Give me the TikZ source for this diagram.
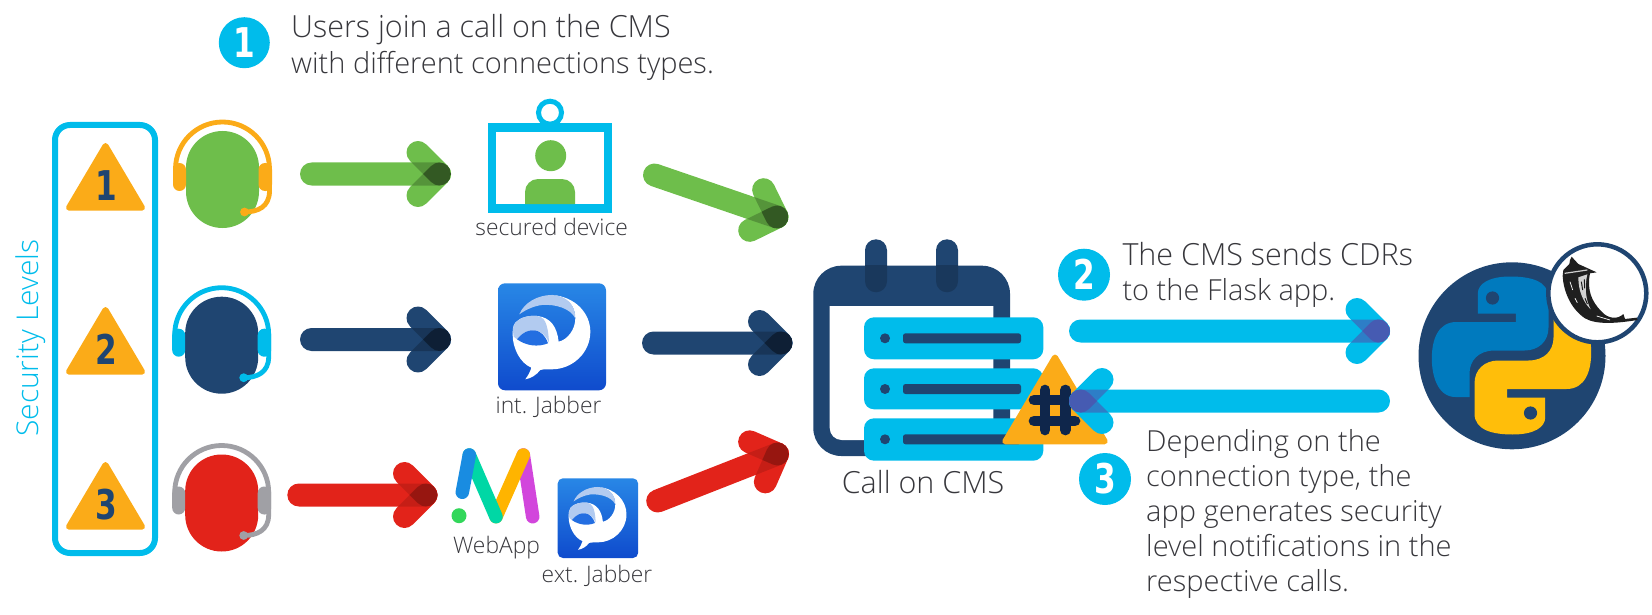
\documentclass[tikz,border=0pt]{standalone}
\usepackage{fontspec}
\setmainfont{Open Sans Light}
\newfontfamily\digitfont{DejaVu Sans}
\usetikzlibrary{calc}

\definecolor{ciscocyan}{RGB}{0,188,235}
\definecolor{ciscogreen}{RGB}{110,190,75}
\definecolor{cisconavy}{RGB}{31,69,113}
\definecolor{ciscored}{RGB}{226,35,26}
\definecolor{ciscoorange}{RGB}{251,171,24}
\definecolor{ciscogray}{RGB}{160,160,165}
\definecolor{hashnavy}{RGB}{15,38,75}
\definecolor{labelgray}{RGB}{55,55,60}
\definecolor{pyblue}{RGB}{0,122,190}
\definecolor{pyyellow}{RGB}{255,190,10}
\definecolor{overlapblue}{RGB}{75,85,175}

\tikzset{
  bigtext/.style={anchor=base west,inner sep=0,text=labelgray,font=\fontsize{29}{29}\selectfont},
  widetext/.style={anchor=base west,inner sep=0,text=labelgray,font=\fontsize{30.5}{30.5}\selectfont},
  smalltext/.style={anchor=base,inner sep=0,text=labelgray,font=\fontsize{22.8}{22.8}\selectfont},
  alertmark/.style={fill=ciscoorange,draw=ciscoorange,line width=6pt,line join=round},
  barbA/.style={rotate=135,rounded corners=11.5pt},
  barbB/.style={rotate=-135,rounded corners=11.5pt},
  hashbar/.style={hashnavy,line width=10.7pt,line cap=round},
}

\newcommand{\digit}[1]{\scalebox{.76}[1]{\digitfont\bfseries\fontsize{41}{41}\selectfont #1}}

% from, to, colour, overlap colour, overlap opacity
\newcommand{\flowarrow}[5]{
  \path let \p1=($(#2)-(#1)$) in \pgfextra{
    \pgfmathsetmacro\arrowangle{atan2(\y1,\x1)}
    \pgfmathsetmacro\arrowlen{veclen(\x1,\y1)}
    \xdef\arrowangle{\arrowangle}\xdef\arrowlen{\arrowlen}};
  \begin{scope}[shift={(#2)},rotate=\arrowangle]
    \def\shaftpath{(-\arrowlen-11.5,-11.5) rectangle (11.5,11.5)}
    \def\barbpath{(-11.5,-11.5) rectangle (41.9,11.5)}
    \fill[#3,rounded corners=11.5pt] \shaftpath;
    \fill[#3,barbA] \barbpath;
    \fill[#3,barbB] \barbpath;
    \begin{scope}
      \clip[barbA] \barbpath;
      \fill[#4,opacity=#5,rounded corners=11.5pt] \shaftpath;
      \fill[#4,opacity=#5,barbB] \barbpath;
    \end{scope}
    \begin{scope}
      \clip[barbB] \barbpath;
      \fill[#4,opacity=#5,rounded corners=11.5pt] \shaftpath;
    \end{scope}
  \end{scope}
}

% centre x, top of head, head colour, band colour
\newcommand{\headset}[4]{
  \begin{scope}[shift={(#1,#2)}]
    \fill[#3,rounded corners=36.4pt] (-36.5,0) rectangle (36.5,97);
    \draw[#4,line width=4.8pt,line cap=round] (-47,38) .. controls (-47,12) and (-26,-9) .. (0,-9)
      .. controls (26,-9) and (47,12) .. (47,38) -- (47,60) .. controls (47,76) and (35,81) .. (22,81);
    \fill[#4,rounded corners=6.5pt] (-49.5,32) rectangle (-36.5,60);
    \fill[#4,rounded corners=6.5pt] (36,32) rectangle (49.5,60);
    \fill[#4] (22,81) circle (4.4);
  \end{scope}
}

% left, top, size in parts of the big icon
\newcommand{\jabbericon}[3]{
  \begin{scope}[shift={(#1,#2)},scale=#3/3]
    \shade[top color=jabbertop,bottom color=jabberbottom,rounded corners=#3*7pt] (0,0) rectangle (324,321);
    \fill[white] (162,35) .. controls (232,40) and (277,90) .. (277,145)
      .. controls (277,210) and (222,258) .. (162,258) .. controls (150,258) and (140,257) .. (127,260)
      .. controls (115,275) and (100,285) .. (82,288) .. controls (90,277) and (97,265) .. (100,253)
      .. controls (67,240) and (44,195) .. (44,155) .. controls (44,140) and (44,130) .. (52,118)
      .. controls (67,102) and (92,96) .. (117,98) .. controls (157,102) and (177,130) .. (182,175)
      .. controls (207,170) and (232,140) .. (232,105) .. controls (232,65) and (207,40) .. (162,35) -- cycle;
    \fill[jabberband] (64,93) .. controls (77,60) and (117,35) .. (162,35)
      .. controls (207,38) and (232,65) .. (232,105) .. controls (217,75) and (172,62) .. (132,65)
      .. controls (107,68) and (82,80) .. (64,93) -- cycle;
    \fill[jabberband] (47,160) .. controls (44,140) and (44,130) .. (52,118)
      .. controls (67,102) and (92,96) .. (117,98) .. controls (137,100) and (150,115) .. (153,178)
      .. controls (135,135) and (92,125) .. (57,168) -- cycle;
    \fill[jabberhole] (57,168) .. controls (92,125) and (135,135) .. (150,180)
      .. controls (120,192) and (85,188) .. (57,168) -- cycle;
  \end{scope}
}
\definecolor{jabbertop}{RGB}{40,135,230}
\definecolor{jabberbottom}{RGB}{15,75,205}
\definecolor{jabberband}{RGB}{178,203,240}
\definecolor{jabberhole}{RGB}{35,110,225}

\begin{document}
\begin{tikzpicture}[x=1pt,y=-1pt]
    \useasboundingbox (0,0) rectangle (1652,615);

    \coordinate (greenA) at (311.5,174);
    \coordinate (greenB) at (439.5,174);
    \coordinate (navyA) at (311.5,339.5);
    \coordinate (navyB) at (439.5,339.5);
    \coordinate (redA) at (298.8,495);
    \coordinate (redB) at (426,495);
    \coordinate (greenC) at (654.5,175);
    \coordinate (greenD) at (777,217);
    \coordinate (navyC) at (653.5,343);
    \coordinate (navyD) at (781,343);
    \coordinate (redC) at (657.7,501);
    \coordinate (redD) at (777.5,454);
    \coordinate (cdrA) at (1080.5,331);
    \coordinate (cdrB) at (1378.5,331);
    \coordinate (notifyA) at (1378.5,401);
    \coordinate (notifyB) at (1080.5,401);

    % security levels
    \draw[ciscocyan,line width=6pt,rounded corners=15pt] (55,125) rectangle (155,553);
    \node[rotate=90,anchor=base west,inner sep=0,text=ciscocyan,font=\fontsize{30}{30}\selectfont] (levels) at (38,437) {Security Levels};
    \foreach \ty/\n in {146/1,310/2,465/3} {
        \fill[alertmark] (105.5,\ty) -- (142,\ty+61.7) -- (69,\ty+61.7) -- cycle;
        \node[inner sep=0,text=cisconavy] (level\n) at (106,\ty+39.5) {\digit{\n}};
    }

    \headset{222.5}{131}{ciscogreen}{ciscoorange}
    \headset{221.7}{296.7}{cisconavy}{ciscocyan}
    \headset{221.7}{454.5}{ciscored}{ciscogray}

    \flowarrow{greenA}{greenB}{ciscogreen}{black}{.22}
    \flowarrow{navyA}{navyB}{cisconavy}{black}{.22}
    \flowarrow{redA}{redB}{ciscored}{black}{.12}
    \flowarrow{greenC}{greenD}{ciscogreen}{black}{.22}
    \flowarrow{navyC}{navyD}{cisconavy}{black}{.22}
    \flowarrow{redC}{redD}{ciscored}{black}{.12}

    % secured device
    \draw[ciscocyan,line width=5pt] (550,112.7) circle (11.5);
    \draw[ciscocyan,line width=8.5pt,fill=white] (492.2,127.3) rectangle (607.8,208.3);
    \fill[ciscogreen] (550.7,155.7) circle (15.5);
    \fill[ciscogreen] (525,204) [rounded corners=13pt] -- (525,179) -- (575,179) [sharp corners] -- (575,204) -- cycle;
    \node[smalltext] (secured) at (551.7,235.7) {secured device};

    \jabbericon{498}{283.3}{1}
    \node[smalltext] (intjabber) at (548.5,413.3) {int. Jabber};

    % web app
    \draw[line width=13.5pt,line cap=round,draw={rgb,255:red,210;green,70;blue,220}] (523.3,455) -- (532.7,516.7);
    \draw[line width=13.5pt,line cap=round,draw={rgb,255:red,255;green,180;blue,0}] (523.3,455) -- (496,516.7);
    \draw[line width=13.5pt,line cap=round,draw={rgb,255:red,0;green,215;blue,165}] (469.3,455) -- (496,516.7);
    \draw[line width=13.5pt,line cap=round,draw={rgb,255:red,25;green,140;blue,225}] (469.3,455) -- (462.3,492.3);
    \fill[fill={rgb,255:red,50;green,215;blue,90}] (459,515.7) circle (7.5);
    \node[smalltext] (webapp) at (496.5,553.3) {WebApp};

    \jabbericon{557.7}{478.3}{.745}
    \node[smalltext] (extjabber) at (597,582.5) {ext. Jabber};

    % call on the CMS
    \fill[cisconavy,rounded corners=28pt] (813.3,265.7) rectangle (1010,456);
    \fill[white] (829.7,306) -- (993.3,306) -- (993.3,440) [rounded corners=12pt] -- (829.7,440) [sharp corners] -- cycle;
    \foreach \rx in {876,947} {
        \fill[cisconavy,rounded corners=11pt] (\rx-11,239.3) rectangle (\rx+11,292.3);
        \begin{scope}
            \clip (813,265.7) rectangle (1010,300);
            \fill[black,opacity=.18,rounded corners=11pt] (\rx-11,239.3) rectangle (\rx+11,292.3);
        \end{scope}
    }
    \foreach \ta/\tb/\lw in {317.3/359.3/338.3,368.3/409.3/389,418.3/460.7/439.3} {
        \fill[ciscocyan,rounded corners=10pt] (864,\ta) rectangle (1043.3,\tb);
        \fill[cisconavy] (885,\lw) circle (5);
        \fill[cisconavy,rounded corners=2.5pt] (903,\lw-5) rectangle (1021,\lw+5);
    }
    \fill[alertmark] (1055,357.5) -- (1104.7,441.3) -- (1005.3,441.3) -- cycle;
    \draw[hashbar] (1045,390) -- (1045,430);
    \draw[hashbar] (1065.3,390) -- (1065.3,430);
    \draw[hashbar] (1034,400) -- (1075,400);
    \draw[hashbar] (1034,421) -- (1075,421);
    \node[anchor=base,inner sep=0,text=labelgray,font=\fontsize{30.5}{30.5}\selectfont] (callcms) at (923,493) {Call on CMS};

    \flowarrow{cdrA}{cdrB}{ciscocyan}{overlapblue}{.6}
    \flowarrow{notifyA}{notifyB}{ciscocyan}{overlapblue}{.6}

    % python and flask
    \fill[cisconavy] (1512,355.8) circle (93.5);
    \begin{scope}[shift={(1511.5,355.5)}]
        \foreach \ang/\snake in {0/pyblue,180/pyyellow} {
            \begin{scope}[rotate=\ang]
                \fill[\snake] (-33.7,-42) -- (-33.7,-62) .. controls (-33.7,-72) and (-22,-79) .. (-1.3,-79)
                    .. controls (18,-79) and (37,-75) .. (37,-58) -- (37,-28) .. controls (37,-14) and (27,-5) .. (13,-5)
                    -- (-17,-5) .. controls (-33,-5) and (-42,5) .. (-42,18) -- (-42,41.5) -- (-56,41.5)
                    .. controls (-74,41.5) and (-79.7,20) .. (-79.7,3) .. controls (-79.7,-15) and (-74,-33.5) .. (-55,-33.5)
                    -- (4.3,-33.5) -- (4.3,-42) -- cycle;
                \fill[cisconavy] (-19,-57.5) circle (6.6);
            \end{scope}
        }
    \end{scope}
    \draw[cisconavy,line width=4.5pt,fill=white] (1597.3,293.3) circle (49);
    \begin{scope}[shift={(1470,240)},scale=1/3]
        \fill[black!88] (278,108) .. controls (280,150) and (300,205) .. (345,235) .. controls (380,255) and (440,250) .. (503,240)
            -- (500,233) -- (465,237) -- (460,222) .. controls (445,238) and (415,238) .. (395,215)
            .. controls (365,185) and (350,150) .. (360,100) -- (380,97) -- (325,72) -- (312,58) -- (305,50)
            -- (300,60) -- (298,72) -- (280,90) -- cycle;
        \fill[black!18] (325,112) .. controls (325,150) and (338,185) .. (362,208) .. controls (347,180) and (343,140) .. (352,103) -- cycle;
        \draw[black!20,line width=1.2pt] (284,100) -- (352,90);
        \draw[black!90,line width=1pt] (334,125) -- (338,150) (343,118) -- (344,145) (345,175) -- (352,192);
        \draw[white,line width=.7pt] (300,125) -- (308,150) (315,175) -- (322,188) (380,228) -- (420,240);
    \end{scope}

    % step texts
    \fill[ciscocyan] (244.3,42.7) circle (25.5);
    \node[inner sep=0,text=white] (step1) at (244.3,42.7) {\digit{1}};
    \node[widetext] (usersa) at (291,37.3) {Users join a call on the CMS};
    \node[bigtext] (usersb) at (291,73.3) {with different connections types.};

    \fill[ciscocyan] (1084,274.7) circle (26);
    \node[inner sep=0,text=white] (step2) at (1084,274.7) {\digit{2}};
    \node[widetext] (cmsa) at (1122.3,265) {The CMS sends CDRs};
    \node[bigtext] (cmsb) at (1122.3,300) {to the Flask app.};

    \fill[ciscocyan] (1105,479) circle (26);
    \node[inner sep=0,text=white] (step3) at (1105,479) {\digit{3}};
    \node[bigtext] (depa) at (1146,451.7) {Depending on the};
    \node[bigtext] (depb) at (1146,486.7) {connection type, the};
    \node[bigtext] (depc) at (1146,521.7) {app generates security};
    \node[bigtext] (depd) at (1146,556.7) {level notifications in the};
    \node[bigtext] (depe) at (1146,591.7) {respective calls.};

\end{tikzpicture}
\end{document}
